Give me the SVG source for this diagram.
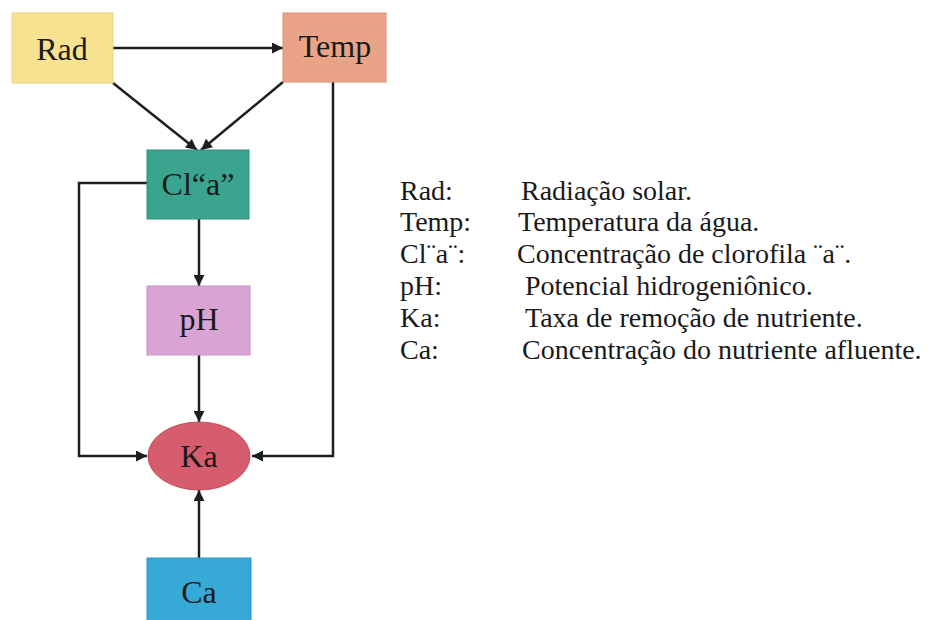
<svg xmlns="http://www.w3.org/2000/svg" width="931" height="620" viewBox="0 0 931 620">
<style>
.node{stroke-width:1;}
.lbl{font-family:"Liberation Serif","Times New Roman",serif;font-size:32px;fill:#1a1a1a;text-anchor:middle;}
.leg{font-family:"Liberation Serif","Times New Roman",serif;font-size:28px;fill:#1a1a1a;}
.conn{fill:none;stroke:#1e1e1e;stroke-width:2.5;}
</style>
<defs>
<marker id="ah" viewBox="0 0 10 10" refX="10" refY="5" markerWidth="5" markerHeight="4.4" orient="auto" markerUnits="strokeWidth">
<path d="M0,0 L10,5 L0,10 z" fill="#1e1e1e"/>
</marker>
</defs>
<rect width="931" height="620" fill="#ffffff"/>
<g id="connectors">
<path class="conn" d="M113,48 L283,48" marker-end="url(#ah)"/>
<path class="conn" d="M113,83 L197,150" marker-end="url(#ah)"/>
<path class="conn" d="M283,82 L201,150" marker-end="url(#ah)"/>
<path class="conn" d="M333,82 L333,456 L252,456" marker-end="url(#ah)"/>
<path class="conn" d="M147,183 L79,183 L79,456 L147,456" marker-end="url(#ah)"/>
<path class="conn" d="M199,219 L199,286" marker-end="url(#ah)"/>
<path class="conn" d="M199,355 L199,422" marker-end="url(#ah)"/>
<path class="conn" d="M199,558 L199,490" marker-end="url(#ah)"/>
</g>
<g id="rad">
<rect class="node" x="12" y="13" width="101" height="70" fill="#f6e291" stroke="#e8d27e"/>
<text class="lbl" x="62" y="60">Rad</text>
</g>
<g id="temp">
<rect class="node" x="283" y="13" width="103" height="69" fill="#e9a387" stroke="#d99276"/>
<text class="lbl" x="335" y="57">Temp</text>
</g>
<g id="cla">
<rect class="node" x="147" y="150" width="102" height="69" fill="#3ba48f" stroke="#2f8f7b"/>
<text class="lbl" x="198" y="195">Cl“a”</text>
</g>
<g id="ph">
<rect class="node" x="147" y="286" width="103" height="69" fill="#d9a3d4" stroke="#c992c3"/>
<text class="lbl" x="199" y="330">pH</text>
</g>
<g id="ka">
<ellipse class="node" cx="199" cy="456" rx="51" ry="34" fill="#d55d6d" stroke="#c44e5e"/>
<text class="lbl" x="199" y="467">Ka</text>
</g>
<g id="ca">
<rect class="node" x="147" y="558" width="104" height="66" fill="#37a9d6" stroke="#2a98c4"/>
<text class="lbl" x="199" y="603">Ca</text>
</g>
<g id="legend">
<text class="leg" x="400" y="200">Rad:</text>
<text class="leg" x="521" y="200">Radiação solar.</text>
<text class="leg" x="400" y="231">Temp:</text>
<text class="leg" x="518" y="231">Temperatura da água.</text>
<text class="leg" x="400" y="263">Cl¨a¨:</text>
<text class="leg" x="517" y="263">Concentração de clorofila ¨a¨.</text>
<text class="leg" x="400" y="295">pH:</text>
<text class="leg" x="525" y="295">Potencial hidrogeniônico.</text>
<text class="leg" x="400" y="327">Ka:</text>
<text class="leg" x="525" y="327">Taxa de remoção de nutriente.</text>
<text class="leg" x="400" y="359">Ca:</text>
<text class="leg" x="522" y="359">Concentração do nutriente afluente.</text>
</g>
</svg>
